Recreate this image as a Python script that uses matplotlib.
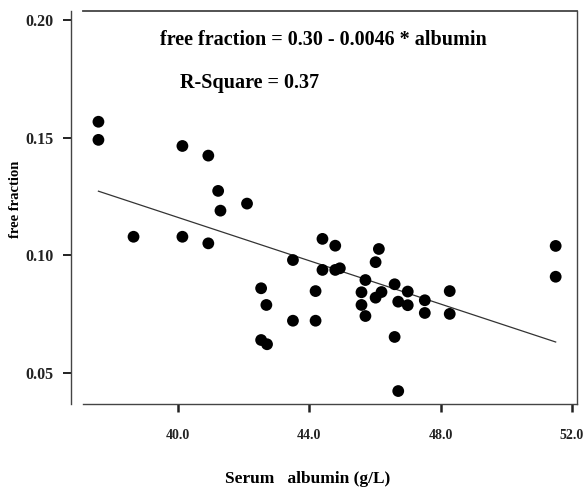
# -*- coding: utf-8 -*-

import numpy as np
import matplotlib
matplotlib.use('Agg')
import matplotlib.pyplot as plt

plt.rcParams['font.family'] = ['Liberation Serif', 'DejaVu Serif']
plt.rcParams['font.weight'] = 'bold'

# Serum albumin (g/L) and free fraction
albumin = [37.57, 37.57, 40.13, 40.92, 41.22, 41.29, 42.10, 38.64, 40.13, 40.92,
           42.53, 42.69, 43.50, 43.50, 42.53, 42.71, 44.40, 44.79, 46.12, 44.40,
           44.79, 44.93, 46.02, 45.71, 46.60, 44.19, 45.59, 46.20, 46.02, 47.00,
           46.71, 47.00, 47.52, 48.28, 45.59, 45.71, 47.52, 48.28, 44.19, 46.60,
           46.71, 51.51, 51.51]
free_fraction = [0.1567, 0.1490, 0.1464, 0.1423, 0.1273, 0.1189, 0.1219, 0.1078, 0.1078, 0.1050,
                 0.0859, 0.0788, 0.0979, 0.0721, 0.0639, 0.0621, 0.1069, 0.1040, 0.1026, 0.0937,
                 0.0937, 0.0944, 0.0970, 0.0894, 0.0876, 0.0847, 0.0842, 0.0843, 0.0819, 0.0845,
                 0.0802, 0.0787, 0.0808, 0.0847, 0.0788, 0.0741, 0.0754, 0.0750, 0.0721, 0.0652,
                 0.0422, 0.1039, 0.0908]

# regression: free fraction = 0.30 - 0.0046 * albumin
intercept = 0.30
slope = -0.0046
r_square = 0.37

x_ticks = [40.0, 44.0, 48.0, 52.0]
y_ticks = [0.05, 0.10, 0.15, 0.20]

x = np.array(albumin)
y = np.array(free_fraction)

fig = plt.figure(figsize=(5.83, 4.92), dpi=100)
ax = fig.add_axes([0.1424, 0.1789, 0.8473, 0.7988])

# data points
ax.scatter(x, y, s=72, color='black', edgecolors='none', zorder=3)

# fitted line over the range of the data
x_fit = np.array([x.min(), x.max()])
ax.plot(x_fit, intercept + slope * x_fit, color='#333333', linewidth=0.9, zorder=2)

ax.set_xlim(37.1, 52.16)
ax.set_ylim(0.0367, 0.2038)

ax.set_xticks(x_ticks)
ax.set_xticklabels(['%.1f' % v for v in x_ticks])
ax.set_yticks(y_ticks)
ax.set_yticklabels(['%.2f' % v for v in y_ticks])

# SPSS style frame, y axis pushed out to the left
ax.spines['left'].set_position(('outward', 9))
for side in ['left', 'right', 'top', 'bottom']:
    ax.spines[side].set_color('#444444')
    ax.spines[side].set_linewidth(1.0)
ax.spines['top'].set_linewidth(1.3)

ax.tick_params(axis='y', direction='out', length=6, width=1.4, pad=6,
               labelsize=11.5, colors='#222222')
ax.tick_params(axis='x', direction='out', length=6, width=1.8, pad=12,
               labelsize=10, colors='#222222')
for lab in ax.get_xticklabels() + ax.get_yticklabels():
    lab.set_fontweight('bold')

# axis titles
fig.text(0.027, 0.594, 'free fraction', rotation=90, ha='center', va='center',
         fontsize=10.5, fontweight='bold')
fig.text(0.527, 0.026, 'Serum   albumin (g/L)', ha='center', va='center',
         fontsize=12.5, fontweight='bold')

# equation and fit quality
ax.text(0.156, 0.926, 'free fraction = %.2f - %.4f * albumin' % (intercept, -slope),
        transform=ax.transAxes, ha='left', va='center', fontsize=14.5, fontweight='bold')
ax.text(0.196, 0.817, 'R-Square = %.2f' % r_square,
        transform=ax.transAxes, ha='left', va='center', fontsize=14.5, fontweight='bold')

plt.savefig('out.png', dpi=100)
